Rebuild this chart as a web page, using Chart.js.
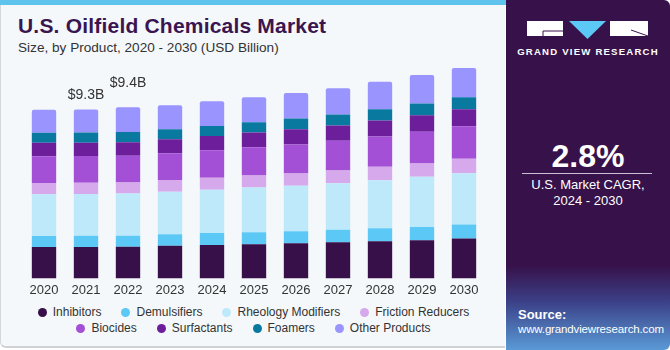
<!DOCTYPE html>
<html>
<head>
<meta charset="utf-8">
<script src="https://cdn.jsdelivr.net/npm/chart.js@4.4.1/dist/chart.umd.min.js"></script>
<style>
    body { margin: 0; width: 670px; height: 350px; overflow: hidden; background: #ffffff; font-family: "Liberation Sans", Arial, sans-serif; }
    #left {
        position: absolute; left: 0; top: 0; width: 505px; height: 348px;
        background: #f4f8fb; border-bottom: 2px solid #cfd3d6; border-left: 1px solid #d5d8db;
        border-radius: 0 0 0 6px; box-sizing: border-box;
    }
    #strip { position: absolute; left: 0; top: 0; width: 506px; height: 5px; background: #5ec4ee; }
    #title { position: absolute; left: 17px; top: 14px; font-size: 21px; font-weight: bold; color: #3a1550; white-space: nowrap; letter-spacing: 0.2px; }
    #subtitle { position: absolute; left: 17px; top: 40px; font-size: 13.6px; color: #333; white-space: nowrap; }
    #chartBox { position: absolute; left: 0; top: 56px; width: 505px; height: 246px; }
    #legend { position: absolute; left: 0; top: 304px; width: 505px; font-size: 12px; color: #333; }
    #legend .row { display: flex; justify-content: center; height: 16px; align-items: center; }
    #legend .item { display: flex; align-items: center; margin: 0 10px; white-space: nowrap; }
    #legend .dot { width: 9px; height: 9px; border-radius: 50%; margin-right: 6px; }
    #right {
        position: absolute; left: 506px; top: 0; width: 164px; height: 350px; border-radius: 0 6px 6px 0;
        background: linear-gradient(to bottom, #37124a 0%, #37124a 76%, #3b3f86 86%, #5a9ad6 100%);
        color: #fff; overflow: hidden;
    }
    #brand { position: absolute; left: 0; top: 46px; width: 164px; text-align: center; font-size: 9.6px; font-weight: bold; letter-spacing: 1.2px; }
    #cagr { position: absolute; left: 0; top: 138px; width: 164px; text-align: center; font-size: 32px; font-weight: bold; }
    #rule { position: absolute; left: 16px; top: 173px; width: 130px; height: 1px; background: #c9c0d2; }
    #cagrText { position: absolute; left: 0; top: 177px; width: 164px; text-align: center; font-size: 13px; line-height: 16px; }
    #source { position: absolute; left: 12px; top: 308px; font-size: 11.5px; line-height: 14px; letter-spacing: -0.15px; }
    #source b { font-size: 13px; letter-spacing: 0; }
</style>
</head>
<body>
<div id="left">
    <div id="title">U.S. Oilfield Chemicals Market</div>
    <div id="subtitle">Size, by Product, 2020 - 2030 (USD Billion)</div>
    <div id="chartBox"><canvas id="marketChart"></canvas></div>
    <div id="legend"></div>
</div>
<div id="strip"></div>
<div id="right">
    <svg style="position:absolute;left:21px;top:21px" width="121" height="19">
        <rect x="0" y="0" width="36" height="15" fill="#fff"/>
        <polyline points="36,10 16,10 16,15" fill="none" stroke="#37124a" stroke-width="1"/>
        <polygon points="42,0 79,0 60.5,18" fill="#5bc8f5"/>
        <rect x="83" y="0" width="38" height="15" fill="#fff"/>
        <line x1="104" y1="9" x2="121" y2="15" stroke="#37124a" stroke-width="1"/>
    </svg>
    <div id="brand">GRAND VIEW RESEARCH</div>
    <div id="cagr">2.8%</div>
    <div id="rule"></div>
    <div id="cagrText">U.S. Market CAGR,<br>2024 - 2030</div>
    <div id="source"><b>Source:</b><br>www.grandviewresearch.com</div>
</div>

<script>
const years = ['2020', '2021', '2022', '2023', '2024', '2025', '2026', '2027', '2028', '2029', '2030'];

const inhibitors   = [1.72, 1.73, 1.74, 1.79, 1.84, 1.88, 1.93, 1.99, 2.04, 2.10, 2.19];
const demulsifiers = [0.61, 0.61, 0.61, 0.63, 0.65, 0.66, 0.66, 0.68, 0.72, 0.73, 0.77];
const rheology     = [2.30, 2.30, 2.31, 2.34, 2.38, 2.45, 2.50, 2.56, 2.63, 2.75, 2.82];
const friction     = [0.61, 0.61, 0.61, 0.65, 0.66, 0.66, 0.68, 0.70, 0.74, 0.73, 0.80];
const biocides     = [1.47, 1.47, 1.47, 1.47, 1.51, 1.56, 1.59, 1.64, 1.67, 1.75, 1.78];
const surfactants  = [0.74, 0.74, 0.74, 0.77, 0.79, 0.80, 0.83, 0.83, 0.88, 0.90, 0.94];
const foamers      = [0.55, 0.55, 0.57, 0.55, 0.55, 0.57, 0.59, 0.61, 0.62, 0.65, 0.66];
const otherProducts = [1.27, 1.27, 1.36, 1.31, 1.35, 1.38, 1.41, 1.44, 1.51, 1.56, 1.60];

// only two bars carry a total label
const labelYears = ['2021', '2022'];
const labelTexts = ['$9.3B', '$9.4B'];

const series = [
    { label: 'Inhibitors', data: inhibitors, color: '#37104a' },
    { label: 'Demulsifiers', data: demulsifiers, color: '#5bc8f5' },
    { label: 'Rheology Modifiers', data: rheology, color: '#bee9fa' },
    { label: 'Friction Reducers', data: friction, color: '#d5a9eb' },
    { label: 'Biocides', data: biocides, color: '#a34fd6' },
    { label: 'Surfactants', data: surfactants, color: '#6d1f9b' },
    { label: 'Foamers', data: foamers, color: '#0a799f' },
    { label: 'Other Products', data: otherProducts, color: '#9a94ff' }
];

const totalLabels = {
    id: 'totalLabels',
    afterDatasetsDraw(chart) {
        const ctx = chart.ctx;
        const lastMeta = chart.getDatasetMeta(chart.data.datasets.length - 1);
        ctx.save();
        ctx.font = '14px "Liberation Sans", Arial, sans-serif';
        ctx.fillStyle = '#333';
        ctx.textAlign = 'center';
        ctx.textBaseline = 'middle';
        labelYears.forEach(function (yr, i) {
            const idx = years.indexOf(yr);
            const bar = lastMeta.data[idx];
            const lift = i === 0 ? 14 : 24;
            ctx.fillText(labelTexts[i], bar.x, bar.y - lift);
        });
        ctx.restore();
    }
};

function buildLegend() {
    const box = document.getElementById('legend');
    const rows = [series.slice(0, 4), series.slice(4)];
    rows.forEach(function (list) {
        const row = document.createElement('div');
        row.className = 'row';
        list.forEach(function (s) {
            const item = document.createElement('div');
            item.className = 'item';
            const dot = document.createElement('span');
            dot.className = 'dot';
            dot.style.background = s.color;
            item.appendChild(dot);
            item.appendChild(document.createTextNode(s.label));
            row.appendChild(item);
        });
        box.appendChild(row);
    });
}

document.addEventListener('DOMContentLoaded', function () {
    const ctx = document.getElementById('marketChart').getContext('2d');
    const last = series.length - 1;

    new Chart(ctx, {
        type: 'bar',
        data: {
            labels: years,
            datasets: series.map(function (s, i) {
                return {
                    label: s.label,
                    data: s.data,
                    backgroundColor: s.color,
                    borderWidth: 0,
                    borderRadius: i === last ? { topLeft: 2, topRight: 2 } : 0,
                    borderSkipped: i === last ? 'bottom' : false,
                    barPercentage: 0.58,
                    categoryPercentage: 1
                };
            })
        },
        options: {
            responsive: true,
            maintainAspectRatio: false,
            animation: false,
            layout: { padding: { left: 22, right: 21, top: 4, bottom: 0 } },
            plugins: {
                legend: { display: false },
                tooltip: { enabled: false }
            },
            scales: {
                x: {
                    stacked: true,
                    grid: { display: false, drawTicks: false },
                    border: { display: false },
                    ticks: {
                        color: '#333',
                        font: { size: 13, family: '"Liberation Sans", Arial, sans-serif' },
                        padding: 4
                    }
                },
                y: {
                    stacked: true,
                    display: false,
                    min: 0,
                    max: 12
                }
            }
        },
        plugins: [totalLabels]
    });

    buildLegend();
});
</script>
</body>
</html>
